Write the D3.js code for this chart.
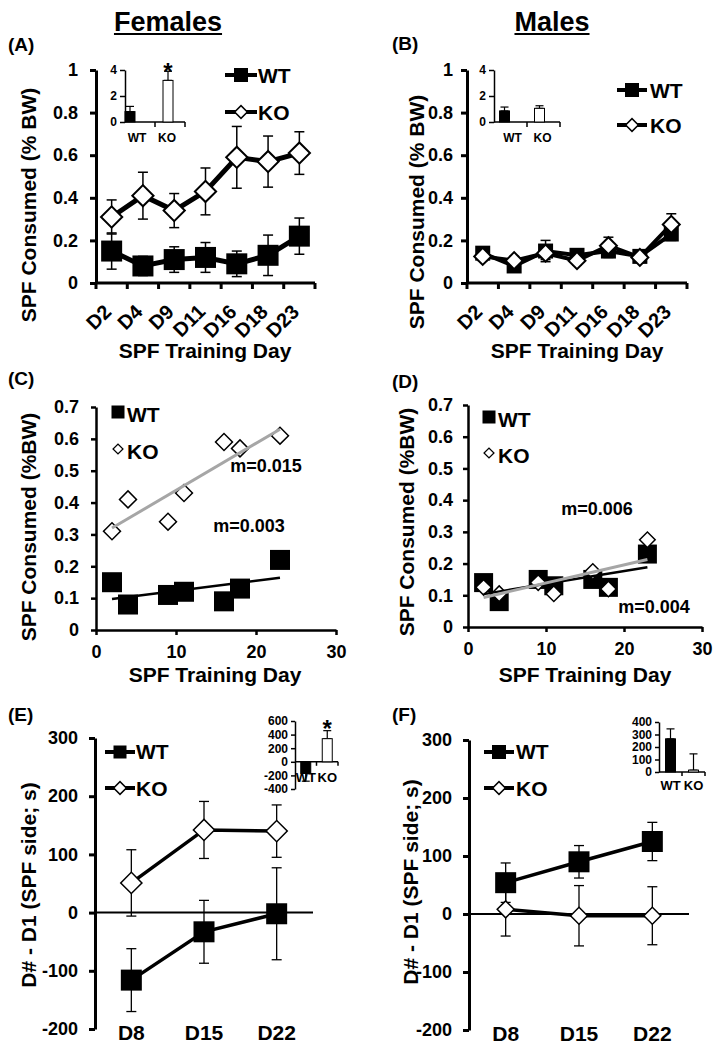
<!DOCTYPE html>
<html><head><meta charset="utf-8">
<script src="https://cdn.jsdelivr.net/npm/d3@7"></script>
<style>
body{margin:0;background:#fff}
svg{display:block}
text{font-family:"Liberation Sans",Arial,Helvetica,sans-serif;font-weight:bold;fill:#000}
</style>
</head><body>
<svg id="c" width="717" height="1050"></svg>
<script>
// ---------------- DATA ----------------
const days = ["D2","D4","D9","D11","D16","D18","D23"];
const dayNum = [2,4,9,11,16,18,23];
const femWT   = [0.15,0.08,0.11,0.12,0.09,0.13,0.22];
const femWTse = [0.085,0.045,0.06,0.07,0.06,0.095,0.085];
const femKO   = [0.31,0.41,0.34,0.43,0.59,0.57,0.61];
const femKOse = [0.08,0.11,0.08,0.11,0.145,0.12,0.10];
const maleWT   = [0.14,0.08,0.15,0.13,0.15,0.125,0.23];
const maleWTse = [0.02,0.02,0.05,0.02,0.03,0.02,0.03];
const maleKO   = [0.125,0.105,0.14,0.105,0.175,0.12,0.275];
const maleKOse = [0.02,0.02,0.03,0.02,0.04,0.02,0.05];
const groups = ["WT","KO"];
const femInset = [0.8,3.2], femInsetSE = [0.4,0.7];
const maleInset = [0.85,1.05], maleInsetSE = [0.3,0.2];
const prefDays = ["D8","D15","D22"];
const femPrefWT = [-116,-33,-2],  femPrefWTse = [54,54,79];
const femPrefKO = [51,142,140],   femPrefKOse = [57,49,45];
const malePrefWT = [54,90,125],   malePrefWTse = [34,28,33];
const malePrefKO = [8,-3,-3],     malePrefKOse = [46,52,50];
const femPrefInset = [-170,340],  femPrefInsetSE = [115,118];
const malePrefInset = [265,15],   malePrefInsetSE = [80,130];
const ticksAB = [0,0.2,0.4,0.6,0.8,1];
const ticksABlab = ["0","0.2","0.4","0.6","0.8","1"];
const ticksCD = [0,0.1,0.2,0.3,0.4,0.5,0.6,0.7];
const ticksCDlab = ["0","0.1","0.2","0.3","0.4","0.5","0.6","0.7"];
const ticksDay = [0,10,20,30];
const ticksEF = [-200,-100,0,100,200,300];
const ticksInsetAB = [0,2,4];
const ticksInsetE = [-400,-200,0,200,400,600];
const ticksInsetF = [0,100,200,300,400];
const slopeLabC = ["m=0.003","m=0.015"];
const slopeLabD = ["m=0.004","m=0.006"];

// ---------------- HELPERS ----------------
const svg = d3.select("#c");
const intFmt = d=>String(d);
function txt(x,y,s,size,anchor,rot){
  const t = svg.append("text").attr("x",x).attr("y",y).attr("font-size",size)
    .attr("text-anchor",anchor||"start").text(s);
  if(rot) t.attr("transform",`rotate(${rot},${x},${y})`);
  return t;
}
function styleAxis(g,sw,fs){
  g.attr("font-family",null).attr("font-size",null);
  g.select(".domain").attr("stroke","#000").attr("stroke-width",sw);
  g.selectAll(".tick line").attr("stroke","#000").attr("stroke-width",sw);
  g.selectAll(".tick text").attr("font-size",fs);
}
function square(g,x,y,s){
  g.append("rect").attr("x",x-s/2).attr("y",y-s/2).attr("width",s).attr("height",s).attr("fill","#000");
}
function diamond(g,x,y,s,sw){
  g.append("rect").attr("x",-s/2).attr("y",-s/2).attr("width",s).attr("height",s)
   .attr("fill","#fff").attr("stroke","#000").attr("stroke-width",sw||2)
   .attr("transform",`translate(${x},${y}) rotate(45)`);
}
function errBar(g,x,y1,y2,cap,sw){
  g.append("line").attr("x1",x).attr("x2",x).attr("y1",y1).attr("y2",y2).attr("stroke","#000").attr("stroke-width",sw||1.5);
  [y1,y2].forEach(yy=>g.append("line").attr("x1",x-cap/2).attr("x2",x+cap/2).attr("y1",yy).attr("y2",yy).attr("stroke","#000").attr("stroke-width",sw||1.5));
}
function legendLine(x0,x1,y,kind,ms,tx,ty,label,lw){
  const g = svg.append("g");
  g.append("line").attr("x1",x0).attr("x2",x1).attr("y1",y).attr("y2",y).attr("stroke","#000").attr("stroke-width",lw||4);
  const mx=(x0+x1)/2;
  if(kind==="sq") square(g,mx,y,ms); else diamond(g,mx,y,ms,1.5);
  txt(tx,ty,label,21);
}
function fit(xs,ys){
  const mx=d3.mean(xs), my=d3.mean(ys);
  const sxy=d3.sum(xs,(x,i)=>(x-mx)*(ys[i]-my)), sxx=d3.sum(xs,x=>(x-mx)*(x-mx));
  const m=sxy/sxx; return {m:m,b:my-m*mx};
}

// ---------------- PANELS A/B ----------------
function panelAB(o){
  const x = d3.scaleBand().domain(days).range([o.x0,o.x1]);
  const y = d3.scaleLinear().domain([0,1]).range([283,70]);
  const bw = x.bandwidth(), cx = d=>x(d)+bw/2;
  const ga = svg.append("g").attr("transform",`translate(${o.x0},0)`)
    .call(d3.axisLeft(y).tickValues(ticksAB).tickFormat((d,i)=>ticksABlab[i]).tickSize(6).tickSizeOuter(0).tickPadding(o.pad));
  styleAxis(ga,3,18);
  svg.append("line").attr("x1",o.x0).attr("x2",o.x1).attr("y1",y(0)).attr("y2",y(0)).attr("stroke","#000").attr("stroke-width",3);
  days.concat([null]).forEach((d,i)=>{
    const xx = d===null? o.x1 : x(d);
    svg.append("line").attr("x1",xx).attr("x2",xx).attr("y1",y(0)).attr("y2",y(0)+6).attr("stroke","#000").attr("stroke-width",3);
  });
  days.forEach(d=>txt(cx(d)+1,313,d,20,"end",-45));
  const g = svg.append("g");
  [[o.wt,o.wtse],[o.ko,o.kose]].forEach(([v,se])=>{
    days.forEach((d,i)=>errBar(g,cx(d),y(v[i]-se[i]),y(v[i]+se[i]),10,1.5));
  });
  const line = d3.line().x((v,i)=>cx(days[i])).y(v=>y(v));
  g.append("path").attr("d",line(o.wt)).attr("fill","none").attr("stroke","#000").attr("stroke-width",o.lw);
  days.forEach((d,i)=>square(g,cx(d),y(o.wt[i]),o.sq));
  g.append("path").attr("d",line(o.ko)).attr("fill","none").attr("stroke","#000").attr("stroke-width",o.lw);
  days.forEach((d,i)=>diamond(g,cx(d),y(o.ko[i]),o.dm,2));
  // inset
  const xi = d3.scaleBand().domain(groups).range([o.ix0,o.ix1]);
  const yi = d3.scaleLinear().domain([0,4]).range([122,70]);
  const gi = svg.append("g").attr("transform",`translate(${o.ix0},0)`)
    .call(d3.axisLeft(yi).tickValues(ticksInsetAB).tickFormat(intFmt).tickSize(5).tickSizeOuter(0).tickPadding(o.ipad));
  styleAxis(gi,1.5,12);
  svg.append("line").attr("x1",o.ix0).attr("x2",o.ix1).attr("y1",yi(0)).attr("y2",yi(0)).attr("stroke","#000").attr("stroke-width",1.5);
  [xi("KO"),o.ix1].forEach(xx=>svg.append("line").attr("x1",xx).attr("x2",xx).attr("y1",yi(0)).attr("y2",yi(0)+5).attr("stroke","#000").attr("stroke-width",1.5));
  groups.forEach((gname,i)=>{
    const c = xi(gname)+xi.bandwidth()/2 + o.shift[i];
    errBar(svg,c,yi(o.iv[i]),yi(o.iv[i]+o.ise[i]),8,1.2);
    svg.append("rect").attr("x",c-5).attr("y",yi(o.iv[i])).attr("width",10).attr("height",yi(0)-yi(o.iv[i]))
      .attr("fill",i===0?"#000":"#fff").attr("stroke","#000").attr("stroke-width",1);
    txt(xi(gname)+xi.bandwidth()/2 + o.lshift[i],142,gname,12,"middle");
  });
  if(o.star) txt(xi("KO")+xi.bandwidth()/2+o.shift[1],80,"*",24,"middle");
  return x;
}

// Titles
const tF = txt(168,31,"Females",27,"middle");
const tM = txt(552,31,"Males",27,"middle");
[tF,tM].forEach(t=>{const b=t.node().getBBox();
  svg.append("line").attr("x1",b.x).attr("x2",b.x+b.width).attr("y1",34).attr("y2",34).attr("stroke","#000").attr("stroke-width",2);});

txt(8,51,"(A)",19); txt(392,50,"(B)",19);
txt(36,205,"SPF Consumed (% BW)",21,"middle",-90);
txt(424,212,"SPF Consumed (% BW)",21,"middle",-90);
txt(205,358,"SPF Training Day",21,"middle");
txt(577,358,"SPF Training Day",21,"middle");

panelAB({x0:96,x1:315,pad:12,wt:femWT,wtse:femWTse,ko:femKO,kose:femKOse,lw:5,sq:21,dm:15,
  ix0:125,ix1:185,ipad:3,iv:femInset,ise:femInsetSE,shift:[-10,-2],lshift:[-3,-3],star:true});
panelAB({x0:467,x1:687,pad:8,wt:maleWT,wtse:maleWTse,ko:maleKO,kose:maleKOse,lw:4,sq:15,dm:12,
  ix0:494,ix1:560,ipad:3,iv:maleInset,ise:maleInsetSE,shift:[-6,-4],lshift:[2,-1],star:false});
legendLine(225,257,75,"sq",14,258,83,"WT",4);
legendLine(225,257,112,"dm",9,258,120,"KO",4);
legendLine(617,647,90,"sq",14,650,98,"WT",4);
legendLine(617,647,125,"dm",9,650,133,"KO",4);

// ---------------- PANELS C/D ----------------
function panelCD(o){
  const x = d3.scaleLinear().domain([0,30]).range([o.x0,o.x1]);
  const y = d3.scaleLinear().domain([0,0.7]).range([o.yb,o.yt]);
  const ga = svg.append("g").attr("transform",`translate(${o.x0},0)`)
    .call(d3.axisLeft(y).tickValues(ticksCD).tickFormat((d,i)=>ticksCDlab[i]).tickSize(5).tickSizeOuter(0).tickPadding(o.pad));
  styleAxis(ga,2.5,18);
  const gb = svg.append("g").attr("transform",`translate(0,${o.yb})`)
    .call(d3.axisBottom(x).tickValues(ticksDay).tickSize(5).tickSizeOuter(0).tickPadding(10));
  styleAxis(gb,2.5,18);
  const g = svg.append("g");
  dayNum.forEach((d,i)=>square(g,x(d),y(o.wt[i]),o.sq));
  dayNum.forEach((d,i)=>diamond(g,x(d),y(o.ko[i]),o.dm,1.5));
  const fw = fit(dayNum,o.wt), fk = fit(dayNum,o.ko);
  const x1=d3.min(dayNum), x2=d3.max(dayNum);
  g.append("line").attr("x1",x(x1)).attr("x2",x(x2)).attr("y1",y(fw.b+fw.m*x1)).attr("y2",y(fw.b+fw.m*x2)).attr("stroke","#000").attr("stroke-width",2.5);
  g.append("line").attr("x1",x(x1)).attr("x2",x(x2)).attr("y1",y(fk.b+fk.m*x1)).attr("y2",y(fk.b+fk.m*x2)).attr("stroke","#a6a6a6").attr("stroke-width",3);
  square(svg,o.lx,o.ly1,13); txt(o.lx+9,o.ly1+10,"WT",21);
  diamond(svg,o.lx,o.ly2,7,1.3); txt(o.lx+9,o.ly2+10,"KO",21);
}
txt(8,385,"(C)",19); txt(392,388,"(D)",19);
txt(36,527,"SPF Consumed (%BW)",21,"middle",-90);
txt(414,522,"SPF Consumed (%BW)",21,"middle",-90);
txt(215,682,"SPF Training Day",21,"middle");
txt(585,682,"SPF Training Day",21,"middle");
panelCD({x0:96,x1:336,yb:630,yt:407,pad:12,wt:femWT,ko:femKO,sq:20,dm:12,lx:118,ly1:412,ly2:449});
panelCD({x0:468,x1:702,yb:627,yt:405,pad:10,wt:maleWT,ko:maleKO,sq:19,dm:11,lx:489,ly1:417,ly2:453});
txt(249,532,slopeLabC[0],18,"middle"); txt(266,472,slopeLabC[1],18,"middle");
txt(654,613,slopeLabD[0],18,"middle"); txt(597,515,slopeLabD[1],18,"middle");

// ---------------- PANELS E/F ----------------
function panelEF(o){
  const x = d3.scaleBand().domain(prefDays).range([o.x0,o.x1]);
  const y = d3.scaleLinear().domain([-200,300]).range([o.yb,o.yt]);
  const bw=x.bandwidth(), cx=d=>x(d)+bw/2;
  const ga = svg.append("g").attr("transform",`translate(${o.x0},0)`)
    .call(d3.axisLeft(y).tickValues(ticksEF).tickFormat(intFmt).tickSize(6).tickSizeOuter(0).tickPadding(o.pad));
  styleAxis(ga,3,18);
  svg.append("line").attr("x1",o.x0).attr("x2",o.x1).attr("y1",y(0)).attr("y2",y(0)).attr("stroke","#000").attr("stroke-width",2);
  prefDays.forEach(d=>txt(cx(d),o.yb+11,d,21,"middle"));
  const g = svg.append("g");
  [[o.wt,o.wtse],[o.ko,o.kose]].forEach(([v,se])=>prefDays.forEach((d,i)=>errBar(g,cx(d),y(v[i]-se[i]),y(v[i]+se[i]),10,1.3)));
  const line = d3.line().x((v,i)=>cx(prefDays[i])).y(v=>y(v));
  g.append("path").attr("d",line(o.wt)).attr("fill","none").attr("stroke","#000").attr("stroke-width",3.5);
  prefDays.forEach((d,i)=>square(g,cx(d),y(o.wt[i]),o.sq));
  g.append("path").attr("d",line(o.ko)).attr("fill","none").attr("stroke","#000").attr("stroke-width",3.5);
  prefDays.forEach((d,i)=>diamond(g,cx(d),y(o.ko[i]),o.dm,1.5));
  // inset
  const xi = d3.scaleBand().domain(groups).range([o.ix0,o.ix1]);
  const yi = d3.scaleLinear().domain(o.idom).range([o.iyb,o.iyt]);
  const gi = svg.append("g").attr("transform",`translate(${o.ix0},0)`)
    .call(d3.axisLeft(yi).tickValues(o.iticks).tickFormat(intFmt).tickSize(4).tickSizeOuter(0).tickPadding(3));
  styleAxis(gi,1.5,12);
  svg.append("line").attr("x1",o.ix0).attr("x2",o.ix1).attr("y1",yi(0)).attr("y2",yi(0)).attr("stroke","#000").attr("stroke-width",1.5);
  [xi("KO"),o.ix1].forEach(xx=>svg.append("line").attr("x1",xx).attr("x2",xx).attr("y1",yi(0)).attr("y2",yi(0)+4).attr("stroke","#000").attr("stroke-width",1.5));
  groups.forEach((gname,i)=>{
    const c = xi(gname)+xi.bandwidth()/2;
    const v=o.iv[i], e=o.ise[i], tip = v>=0? v+e : v-e;
    errBar(svg,c,yi(v),yi(tip),8,1.2);
    svg.append("rect").attr("x",c-5).attr("y",Math.min(yi(v),yi(0))).attr("width",10).attr("height",Math.abs(yi(0)-yi(v)))
      .attr("fill",i===0?"#000":"#fff").attr("stroke","#000").attr("stroke-width",1);
    txt(c,o.ily,gname,13,"middle");
  });
  if(o.star) txt(xi("KO")+xi.bandwidth()/2,737,"*",24,"middle");
}
txt(8,721,"(E)",19); txt(392,721,"(F)",19);
txt(36,885,"D# - D1 (SPF side; s)",21,"middle",-90);
txt(418,882,"D# - D1 (SPF side; s)",21,"middle",-90);
panelEF({x0:95,x1:313,yb:1029,yt:738,pad:11,wt:femPrefWT,wtse:femPrefWTse,ko:femPrefKO,kose:femPrefKOse,sq:21,dm:15,
  ix0:295,ix1:338,idom:[-400,600],iyb:789,iyt:721,iticks:ticksInsetE,iv:femPrefInset,ise:femPrefInsetSE,ily:782,star:true});
panelEF({x0:469,x1:689,yb:1030,yt:740,pad:11,wt:malePrefWT,wtse:malePrefWTse,ko:malePrefKO,kose:malePrefKOse,sq:21,dm:12,
  ix0:659,ix1:705,idom:[0,400],iyb:772,iyt:722,iticks:ticksInsetF,iv:malePrefInset,ise:malePrefInsetSE,ily:790,star:false});
legendLine(105,135,752,"sq",13,136,759,"WT",4);
legendLine(105,135,788,"dm",9,136,796,"KO",4);
legendLine(484,514,752,"sq",14,516,759,"WT",4);
legendLine(484,514,788,"dm",9,516,796,"KO",4);
</script>
</body></html>
